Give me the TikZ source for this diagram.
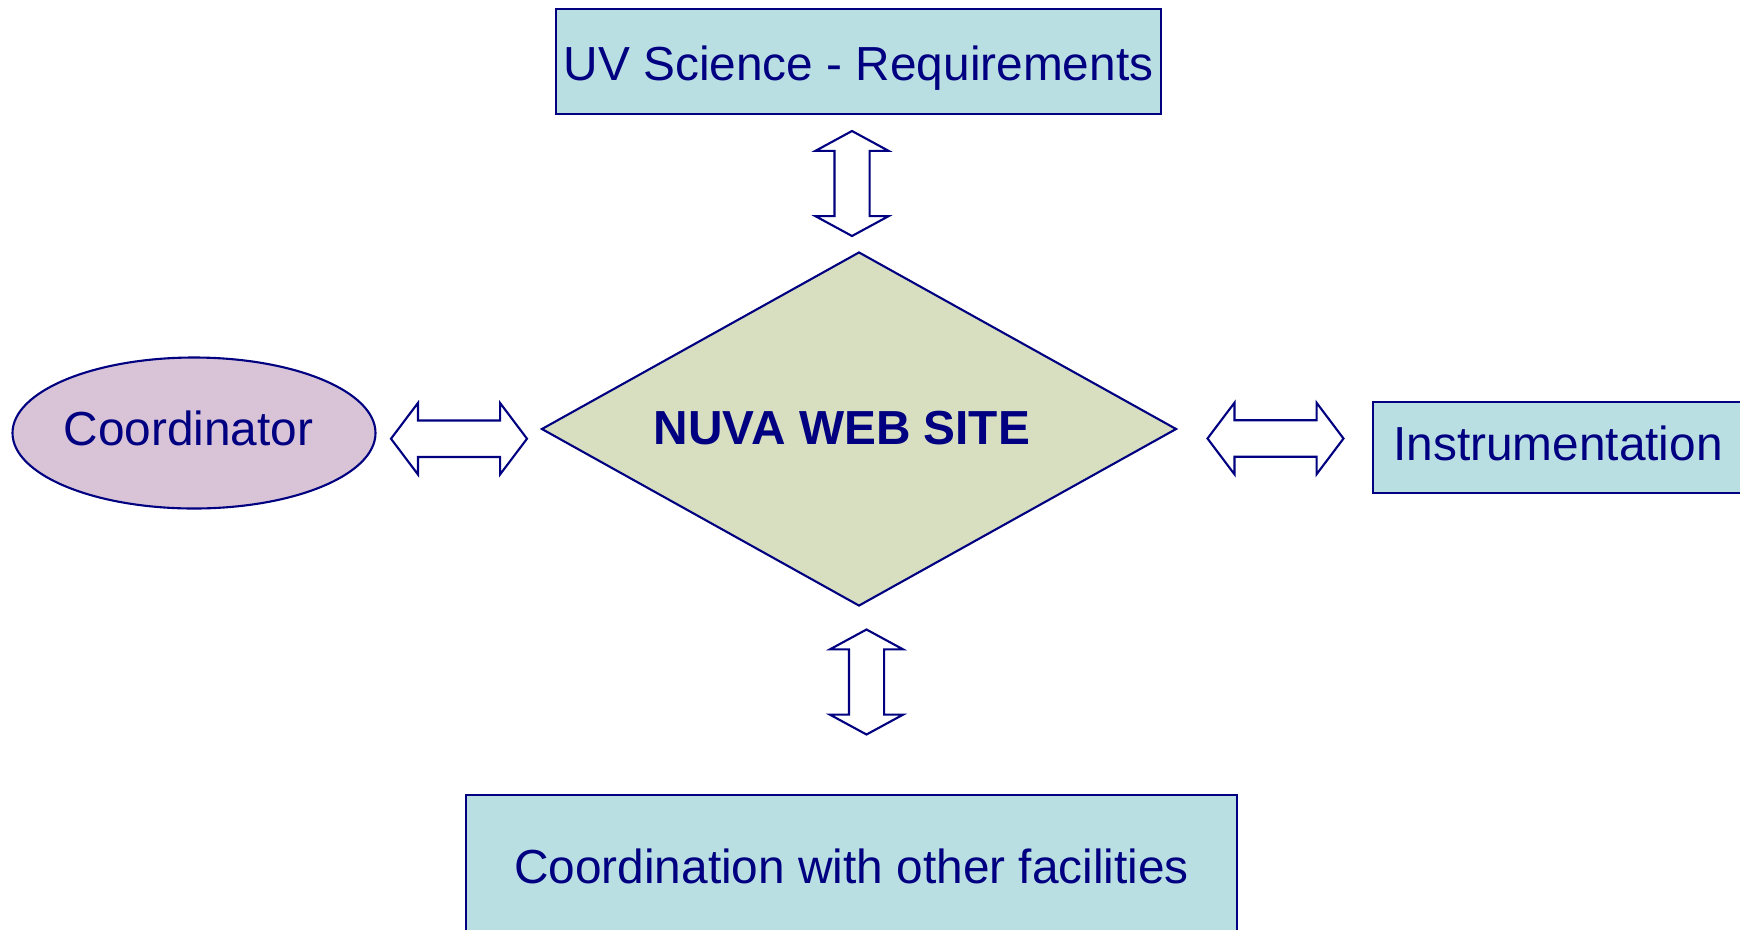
\documentclass[tikz,border=0pt]{standalone}
\usepackage{fontspec}
\setmainfont{Liberation Sans}
\usepackage{xcolor}
\usepackage{tikz}
\usetikzlibrary{shapes.geometric, shapes.arrows}
\definecolor{marino}{HTML}{000080}
\definecolor{celeste}{HTML}{BADFE3}
\definecolor{malva}{HTML}{D9C3D7}
\definecolor{oliva}{HTML}{D8DFC0}
\tikzset{
  every picture/.style={font=\fontsize{13.6}{16}\selectfont},
  caja/.style={draw=marino, text=marino, fill=celeste, line width=0.6pt,
               inner sep=0pt, align=center},
  elipse/.style={ellipse, draw=marino, text=marino, fill=malva, line width=0.6pt,
                 inner ysep=0pt, inner xsep=-0.1cm, minimum width=3.63cm, minimum height=1.51cm},
  rombo/.style={diamond, draw=marino, fill=oliva, line width=0.6pt, inner sep=0pt,
                minimum width=6.35cm, minimum height=3.54cm},
  flechah/.style={double arrow, draw=marino, fill=white, line width=0.6pt,
                  inner xsep=0pt, inner ysep=0.172cm, minimum width=0pt,
                  double arrow head extend=0.175cm, double arrow tip angle=106,
                  minimum height=1.36cm},
  flechav/.style={double arrow, draw=marino, fill=white, line width=0.6pt,
                  inner xsep=0.165cm, inner ysep=0pt, minimum width=0pt,
                  double arrow head extend=0.19cm, double arrow tip angle=123,
                  minimum height=1.05cm, shape border rotate=90},
}

\begin{document}
\begin{tikzpicture}
  \clip (0,0) rectangle (17.4,-9.29);
  % centro
  \node[rombo] (web) at (8.59,-4.29) {};
  \node[text=marino, font=\fontsize{13.6}{16}\selectfont\bfseries] (webtxt) at (8.42,-4.28) {NUVA WEB SITE};
  % alrededor
  \node[caja, minimum width=6.05cm, minimum height=1.05cm, text height=0.476cm, text depth=0.1cm]
    (uv) at (8.585,-0.615) {UV Science - Requirements};
  \node[elipse, text height=0.342cm, text depth=0.09cm] (coord) at (1.94,-4.33) {Coordinator\kern0.11cm};
  \node[caja, minimum width=3.70cm, minimum height=0.91cm, text height=0.342cm, text depth=0.09cm]
    (instr) at (15.58,-4.475) {Instrumentation};
  \node[caja, minimum width=7.71cm, minimum height=1.42cm] (fac) at (8.515,-8.66) {Coordination with other facilities};
  % flechas dobles
  \node[flechav] (fuv) at (8.52,-1.835) {};
  \node[flechah] (fcoord) at (4.59,-4.387) {};
  \node[flechah] (finstr) at (12.755,-4.385) {};
  \node[flechav] (ffac) at (8.665,-6.82) {};
\end{tikzpicture}
\end{document}
